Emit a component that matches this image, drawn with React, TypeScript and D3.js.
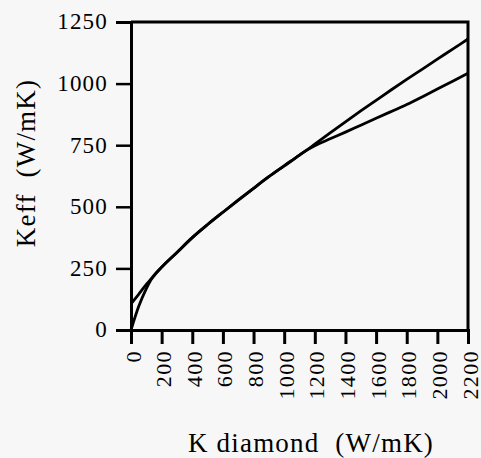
import React, { useRef, useEffect } from "react";
import * as d3 from "d3";

// K diamond values (W/mK)
const kDiamond = [0, 50, 100, 125, 150, 200, 300, 400, 500, 600, 700, 800, 900, 1000, 1100, 1150,
  1200, 1300, 1400, 1500, 1600, 1700, 1800, 1900, 2000, 2100, 2200];

// Keff curve that starts high and ends lower
const keffA = [106, 145, 185, 203, 222, 255, 315, 375, 428, 478, 527, 575, 622, 666, 710, 731,
  748, 776, 803, 831, 859, 887, 915, 946, 978, 1010, 1042];

// Keff curve that starts at zero and ends higher
const keffB = [0, 95, 168, 198, 220, 255, 315, 375, 428, 478, 527, 575, 622, 666, 710, 731,
  754, 800, 845, 889, 932, 975, 1017, 1058, 1099, 1140, 1181];

const xTicks = [0, 200, 400, 600, 800, 1000, 1200, 1400, 1600, 1800, 2000, 2200];
const yTicks = [0, 250, 500, 750, 1000, 1250];

const W = 481, H = 458;
const margin = { left: 131, right: 13, top: 22, bottom: 128 };
const FONT = "'Liberation Serif', 'Times New Roman', serif";

const App = () => {
  const svgRef = useRef(null);

  useEffect(() => {
    const svg = d3.select(svgRef.current);
    svg.selectAll("*").remove();

    const x = d3.scaleLinear().domain([0, 2200]).range([margin.left, W - margin.right]);
    const y = d3.scaleLinear().domain([0, 1250]).range([H - margin.bottom, margin.top]);

    svg.append("rect").attr("width", W).attr("height", H).attr("fill", "#f7f7f7");

    // curves
    const line = d3.line<number>()
      .x((_, i) => x(kDiamond[i]))
      .y(d => y(d))
      .curve(d3.curveMonotoneX);

    [keffA, keffB].forEach(s => {
      svg.append("path")
        .datum(s)
        .attr("d", line)
        .attr("fill", "none")
        .attr("stroke", "#000")
        .attr("stroke-width", 2.8);
    });

    // frame (top + right)
    svg.append("path")
      .attr("d", `M${x(0)},${y(1250)}H${x(2200)}V${y(0)}`)
      .attr("fill", "none")
      .attr("stroke", "#000")
      .attr("stroke-width", 3);

    // Y axis
    const yAxis = d3.axisLeft(y).tickValues(yTicks).tickSize(15).tickPadding(8).tickFormat(d3.format("d"));
    const yg = svg.append("g").attr("transform", `translate(${x(0)},0)`).call(yAxis);
    yg.select(".domain").attr("stroke-width", 3);
    yg.selectAll(".tick line").attr("stroke-width", 2.5);
    yg.selectAll(".tick text")
      .attr("font-family", FONT)
      .attr("font-size", 23)
      .attr("letter-spacing", 1.2)
      .attr("fill", "#000")
      .attr("dy", "0.3em");

    // X axis
    const xAxis = d3.axisBottom(x).tickValues(xTicks).tickSize(14).tickFormat(d3.format("d"));
    const xg = svg.append("g").attr("transform", `translate(0,${y(0)})`).call(xAxis);
    xg.select(".domain").attr("stroke-width", 3);
    xg.selectAll(".tick line").attr("stroke-width", 3);
    xg.selectAll(".tick text")
      .attr("font-family", FONT)
      .attr("font-size", 22)
      .attr("letter-spacing", 1.4)
      .attr("fill", "#000")
      .attr("text-anchor", "end")
      .attr("dy", null)
      .attr("y", 0)
      .attr("transform", "translate(9,20) rotate(-90)");

    // titles
    svg.append("text")
      .attr("transform", `translate(35,163) rotate(-90)`)
      .attr("text-anchor", "middle")
      .attr("font-family", FONT)
      .attr("font-size", 27)
      .attr("letter-spacing", 1.2)
      .attr("fill", "#000")
      .attr("xml:space", "preserve")
      .text("Keff  (W/mK)");

    svg.append("text")
      .attr("x", 311)
      .attr("y", 452)
      .attr("text-anchor", "middle")
      .attr("font-family", FONT)
      .attr("font-size", 27)
      .attr("letter-spacing", 1.2)
      .attr("fill", "#000")
      .attr("xml:space", "preserve")
      .text("K diamond  (W/mK)");
  }, []);

  return (
    <svg ref={svgRef} width={W} height={H}
      style={{ display: "block", position: "absolute", left: 0, top: 0 }} />
  );
};

export default App;
